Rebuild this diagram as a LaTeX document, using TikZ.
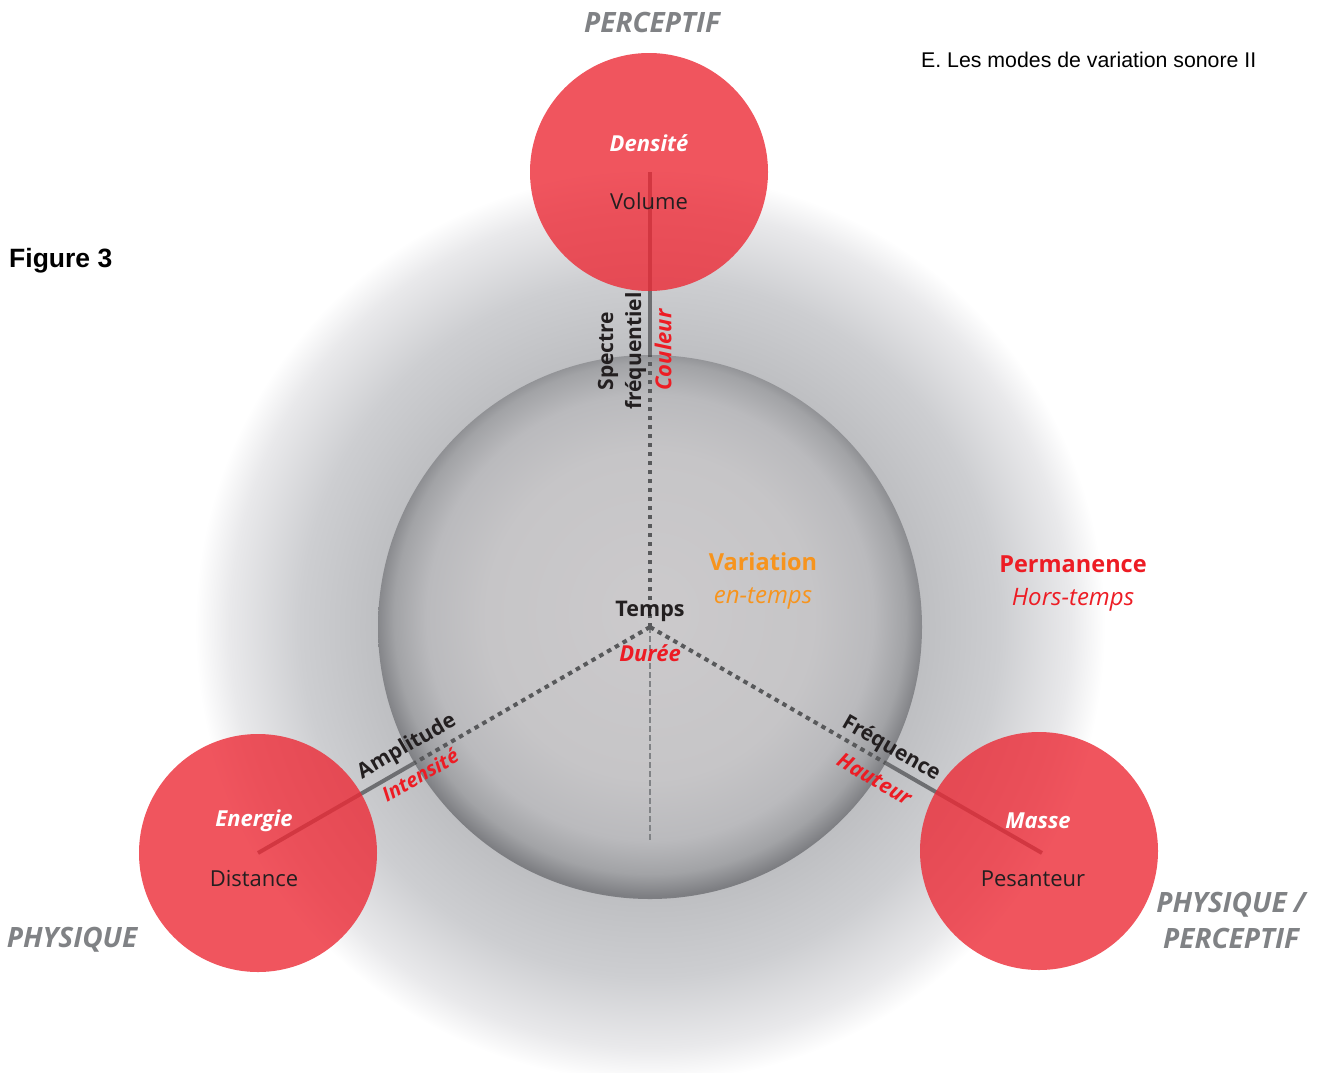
\documentclass[tikz,border=0pt]{standalone}
\usepackage{fontspec}
\setmainfont{Open Sans}
\newfontfamily\arialfont{Liberation Sans}
\definecolor{glowA}{RGB}{190,191,194}
\definecolor{glowB}{RGB}{205,206,209}
\definecolor{glowC}{RGB}{233,233,235}
\definecolor{sphA}{RGB}{204,202,204}
\definecolor{sphB}{RGB}{198,197,199}
\definecolor{sphC}{RGB}{186,186,189}
\definecolor{sphD}{RGB}{162,163,166}
\definecolor{sphE}{RGB}{125,126,130}
\definecolor{redbase}{RGB}{236,42,54}
\definecolor{redtext}{RGB}{237,28,36}
\definecolor{orangetext}{RGB}{247,148,29}
\definecolor{graytext}{RGB}{128,130,133}
\definecolor{darktext}{RGB}{35,31,32}
\definecolor{dotgray}{RGB}{88,89,91}
\definecolor{solidgray}{RGB}{109,110,113}
\definecolor{thingray}{RGB}{128,130,133}
% path radius corresponds to 25bp
\pgfdeclareradialshading{glowshade}{\pgfpoint{0bp}{0bp}}{color(0bp)=(glowA); color(14.95bp)=(glowA); color(19.2bp)=(glowB); color(23.1bp)=(glowC); color(25bp)=(white); color(50bp)=(white)}
\pgfdeclareradialshading{sphereshade}{\pgfpoint{0bp}{1.5bp}}{color(0bp)=(sphA); color(15bp)=(sphB); color(20.5bp)=(sphC); color(23.5bp)=(sphD); color(25.5bp)=(sphE); color(50bp)=(sphE)}
\tikzset{
  redcirc/.style={circle, minimum size=238, inner sep=0, fill=redbase, fill opacity=0.8},
  dotline/.style={draw=dotgray, line width=4pt, dash pattern=on 4.5pt off 4.5pt},
  thindash/.style={draw=thingray, line width=2.5pt, dash pattern=on 5.5pt off 3.5pt},
  solidline/.style={draw=solidgray, line width=4pt},
  txt/.style={inner sep=0, anchor=center},
  reg/.style={txt, text=darktext, font=\fontsize{22}{26}\selectfont},
  bi/.style={txt, font=\fontsize{22}{26}\selectfont\bfseries\itshape},
  bd/.style={txt, font=\fontsize{23.5}{28}\selectfont\bfseries},
  it/.style={txt, font=\fontsize{24}{28}\selectfont\itshape},
  corner/.style={txt, text=graytext, font=\fontsize{28}{36}\selectfont\bfseries\itshape},
  axislab/.style={txt, text=darktext, font=\fontsize{21}{28}\selectfont\bfseries},
  axisred/.style={txt, text=redtext, font=\fontsize{21}{28}\selectfont\bfseries\itshape},
}
\begin{document}
\begin{tikzpicture}[x=1pt,y=-1pt]
\useasboundingbox (0,0) rectangle (1323,1072);
\clip (0,0) rectangle (1323,1072);
% background glow and sphere
\node[circle, minimum size=910, inner sep=0, shade, shading=glowshade] (glow) at (650,627) {};
\node[circle, minimum size=544, inner sep=0, shade, shading=sphereshade] (sphere) at (650,627) {};
% coordinates
\coordinate (pTop) at (650,172);
\coordinate (pLeft) at (258,853);
\coordinate (pRight) at (1042,853);
\coordinate (bottomend) at (650,842);
% dotted axes
\draw[thindash] (sphere.center) -- (bottomend);
\draw[dotline] (sphere.center) -- (sphere.90);
\draw[dotline] (sphere.center) -- (sphere.210);
\draw[dotline] (sphere.center) -- (sphere.330);
% solid segments
\draw[solidline] (sphere.90) -- (pTop);
\draw[solidline] (sphere.210) -- (pLeft);
\draw[solidline] (sphere.330) -- (pRight);
% red circles
\node[redcirc] (cTop) at (649,172) {};
\node[redcirc] (cLeft) at (258,853) {};
\node[redcirc] (cRight) at (1039,851) {};
% circle texts
\node[bi, text=white] (densite) at (649,143) {Densité};
\node[reg] (volume) at (649,201) {Volume};
\node[bi, text=white] (energie) at (254,821) {Energie};
\node[reg] (distance) at (254,879) {Distance};
\node[bi, text=white] (masse) at (1038,821) {Masse};
\node[reg] (pesanteur) at (1033,879) {Pesanteur};
% corner labels
\node[corner] (perceptif) at (652,22) {PERCEPTIF};
\node[corner] (physique) at (72,940) {PHYSIQUE};
\node[corner, align=center] (physperc) at (1231,920) {PHYSIQUE /\\PERCEPTIF};
% header texts
\node[txt, anchor=west, font=\arialfont\fontsize{21.3}{25}\selectfont] (title) at (921,60) {E. Les modes de variation sonore II};
\node[txt, anchor=west, font=\arialfont\fontsize{26.5}{30}\selectfont\bfseries] (figure) at (9,261) {Figure 3};
% centre texts
\node[bd, text=darktext, font=\fontsize{21.5}{26}\selectfont\bfseries] (temps) at (650,611) {Temps};
\node[bi, text=redtext] (duree) at (650,653) {Durée};
\node[bd, text=orangetext] (variation) at (763,562) {Variation};
\node[it, text=orangetext] (entemps) at (763,598) {en-temps};
\node[bd, text=redtext] (permanence) at (1073,564) {Permanence};
\node[it, text=redtext] (horstemps) at (1073,600) {Hors-temps};
% axis labels
\node[axislab, align=center, rotate=90] (spectre) at (622,351) {Spectre\\fréquentiel};
\node[axisred, font=\fontsize{22}{28}\selectfont\bfseries\itshape, rotate=90] (couleur) at (663,350) {Couleur};
\node[axislab, rotate=30] (amplitude) at (407,747) {Amplitude};
\node[axisred, font=\fontsize{20}{28}\selectfont\bfseries\itshape, rotate=30] (intensite) at (420,775) {Intensité};
\node[axislab, rotate=-30] (frequence) at (891,749) {Fréquence};
\node[axisred, rotate=-30] (hauteur) at (874.5,779) {Hauteur};
\end{tikzpicture}
\end{document}
